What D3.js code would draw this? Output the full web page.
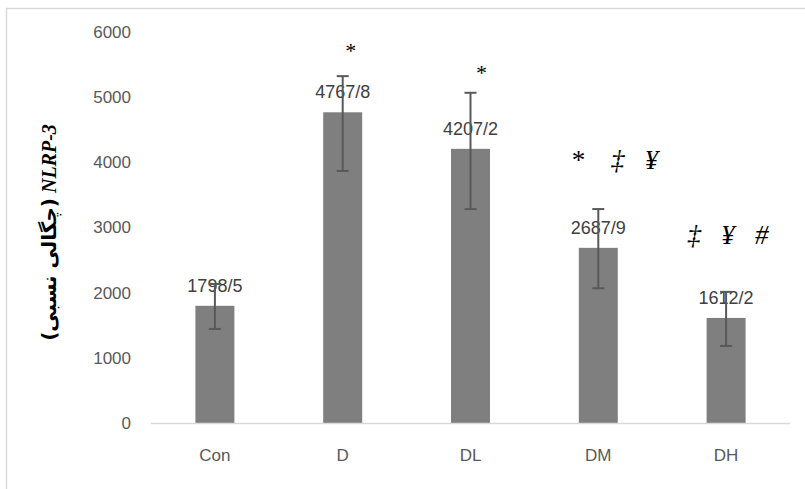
<!DOCTYPE html>
<html>
<head>
<meta charset="utf-8">
<script src="https://cdn.jsdelivr.net/npm/d3@7"></script>
<style>
  body { margin: 0; background: #fff; }
</style>
</head>
<body>
<script>
// chart data
var groups = ["Con", "D", "DL", "DM", "DH"];
var means = [1798.5, 4767.8, 4207.2, 2687.9, 1612.2];
var labels = ["1798/5", "4767/8", "4207/2", "2687/9", "1612/2"];
var errUp = [335, 555, 860, 595, 400];
var errDown = [355, 900, 925, 620, 430];
var yTicks = [0, 1000, 2000, 3000, 4000, 5000, 6000];

// significance marks above the bars
var markGroups = ["D", "DL", "DM", "DH"];
var markTexts = ["*", "*", "*    \u2021   \u00A5", "\u2021   \u00A5   #"];
var markLevels = [5600, 5260, 3900, 2740];

var w = 805, h = 489;
var plotLeft = 151, plotRight = 790, plotTop = 32, plotBottom = 423;

var svg = d3.select("body").append("svg").attr("width", w).attr("height", h);

// outer frame (only top and left edges visible)
svg.append("line").attr("x1", 6.5).attr("x2", 6.5).attr("y1", 8).attr("y2", h)
  .attr("stroke", "#d9d9d9").attr("stroke-width", 1.5);
svg.append("line").attr("x1", 6).attr("x2", w).attr("y1", 8.5).attr("y2", 8.5)
  .attr("stroke", "#d9d9d9").attr("stroke-width", 1.5);

var x = d3.scaleBand().domain(groups).range([plotLeft, plotRight]).paddingInner(0.695).paddingOuter(0.3475);
var y = d3.scaleLinear().domain([0, 6000]).range([plotBottom, plotTop]);

// y axis labels only
var yAxis = svg.append("g").attr("transform", "translate(131,0)")
  .call(d3.axisLeft(y).tickValues(yTicks).tickSize(0).tickPadding(0).tickFormat(d3.format("d")));
yAxis.select(".domain").remove();
yAxis.selectAll("text").attr("fill", "#595959").attr("font-size", "17px")
  .attr("font-family", "Liberation Sans, Arial, sans-serif");

// bars
svg.selectAll("rect.bar").data(groups).enter().append("rect")
  .attr("class", "bar")
  .attr("x", function(d) { return x(d); })
  .attr("width", x.bandwidth())
  .attr("y", function(d, i) { return y(means[i]); })
  .attr("height", function(d, i) { return plotBottom - y(means[i]); })
  .attr("fill", "#7f7f7f");

// baseline
svg.append("line").attr("x1", plotLeft).attr("x2", plotRight).attr("y1", plotBottom + 0.5).attr("y2", plotBottom + 0.5)
  .attr("stroke", "#d9d9d9").attr("stroke-width", 1.5);

// x axis labels
var xAxis = svg.append("g").attr("transform", "translate(0," + plotBottom + ")")
  .call(d3.axisBottom(x).tickSize(0).tickPadding(26));
xAxis.select(".domain").remove();
xAxis.selectAll("text").attr("fill", "#595959").attr("font-size", "17px")
  .attr("font-family", "Liberation Sans, Arial, sans-serif");

// value labels
svg.selectAll("text.val").data(groups).enter().append("text")
  .attr("class", "val")
  .attr("x", function(d) { return x(d) + x.bandwidth() / 2; })
  .attr("y", function(d, i) { return y(means[i]) - 14; })
  .attr("text-anchor", "middle")
  .attr("font-size", "18px")
  .attr("font-family", "Liberation Sans, Arial, sans-serif")
  .attr("fill", "#404040")
  .text(function(d, i) { return labels[i]; });

// error bars
var err = svg.append("g").attr("stroke", "#595959").attr("stroke-width", 2);
groups.forEach(function(g, i) {
  var cx = x(g) + x.bandwidth() / 2;
  var y1 = y(means[i] + errUp[i]), y2 = y(means[i] - errDown[i]);
  err.append("line").attr("x1", cx).attr("x2", cx).attr("y1", y1).attr("y2", y2);
  err.append("line").attr("x1", cx - 6).attr("x2", cx + 6).attr("y1", y1).attr("y2", y1);
  err.append("line").attr("x1", cx - 6).attr("x2", cx + 6).attr("y1", y2).attr("y2", y2);
});

// significance marks
var markShift = { "D": 7, "DL": 10, "DM": 16, "DH": 2 };
svg.selectAll("text.mark").data(markGroups).enter().append("text")
  .attr("class", "mark")
  .attr("x", function(d) { return x(d) + x.bandwidth() / 2 + markShift[d]; })
  .attr("y", function(d, i) { return y(markLevels[i]); })
  .attr("text-anchor", "middle")
  .attr("font-size", function(d, i) { return markTexts[i].length > 1 ? "27px" : "22px"; })
  .attr("font-style", "italic")
  .attr("font-family", "Liberation Serif, Times New Roman, serif")
  .attr("fill", "#000")
  .style("white-space", "pre")
  .text(function(d, i) { return markTexts[i]; });

// y title
var title = svg.append("text")
  .attr("transform", "translate(56," + ((plotTop + plotBottom) / 2 + 5) + ") rotate(-90)")
  .attr("text-anchor", "middle")
  .attr("direction", "ltr")
  .attr("font-weight", "bold")
  .attr("font-size", "20px")
  .attr("fill", "#000");
title.append("tspan").attr("font-family", "DejaVu Sans, sans-serif").text("(\u0686\u06AF\u0627\u0644\u06CC \u0646\u0633\u0628\u06CC)");
title.append("tspan").attr("font-family", "Liberation Serif, Times New Roman, serif")
  .attr("font-style", "italic").text(" NLRP-3");
</script>
</body>
</html>
